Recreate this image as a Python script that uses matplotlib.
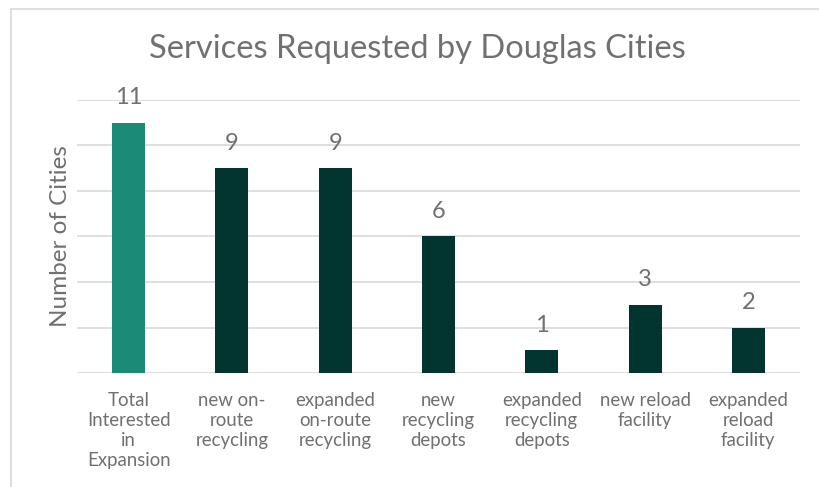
import matplotlib
matplotlib.use("Agg")
import matplotlib.pyplot as plt
from matplotlib.patches import Rectangle

categories = ["Total\nInterested\nin\nExpansion", "new on-\nroute\nrecycling", "expanded\non-route\nrecycling",
              "new\nrecycling\ndepots", "expanded\nrecycling\ndepots", "new reload\nfacility", "expanded\nreload\nfacility"]
values = [11, 9, 9, 6, 1, 3, 2]
colors = ["#1B8A76"] + ["#023430"] * 6

plt.rcParams['font.family'] = ['Lato', 'DejaVu Sans']
txt = "#707070"

fig = plt.figure(figsize=(8.2, 4.87), dpi=100)
border = Rectangle((11/820, -0.1), 1.0, 1 + 0.1 - 9/487, transform=fig.transFigure,
                   facecolor="white", edgecolor="#D9D9D9", lw=1.2, zorder=-10)
fig.add_artist(border)
ax = fig.add_axes([77/820, 1-373/487, (800-77)/820, (373-100)/487])
ax.set_facecolor("none")
x = range(len(values))
bars = ax.bar(x, values, width=0.32, color=colors, zorder=3)
for xi, v in zip(x, values):
    ax.text(xi, v + 1.1, str(v), ha="center", va="center", fontsize=17, color=txt)
ax.set_ylim(0, 12)
ax.set_xlim(-0.5, len(values) - 0.5)
ax.set_yticks(range(0, 13, 2))
ax.set_yticklabels([])
ax.tick_params(axis="y", length=0)
ax.tick_params(axis="x", length=0, pad=14)
ax.set_xticks(list(x))
ax.set_xticklabels(categories, fontsize=13.4, color=txt, linespacing=1.2)
ax.grid(axis="y", color="#D9D9D9", lw=1.2, zorder=0)
for s in ["top", "right", "left", "bottom"]:
    ax.spines[s].set_visible(False)
ax.yaxis.set_label_coords(-6/723, 0.5)
ax.set_ylabel("Number of Cities", fontsize=17.5, color=txt)
fig.text(417/820, 1-49/487, "Services Requested by Douglas Cities", ha="center", va="center",
         fontsize=23.5, color=txt)
fig.savefig("out.png", dpi=100)
